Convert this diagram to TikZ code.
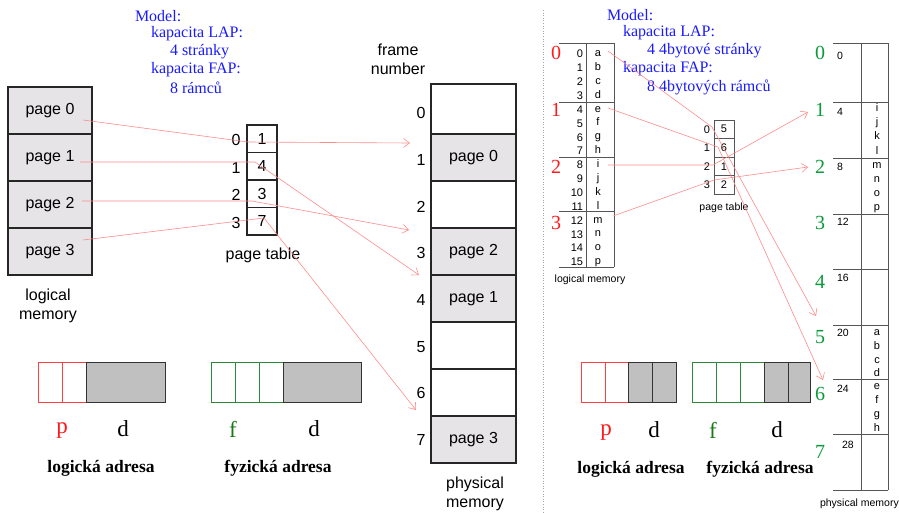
\documentclass[tikz,border=0pt]{standalone}
\usepackage{fontspec}
\setmainfont{Liberation Serif}
\newfontfamily\lsans{Liberation Sans}
\usetikzlibrary{arrows.meta}
\definecolor{cellgray}{HTML}{E6E4E6}
\definecolor{addrgray}{HTML}{C0C0C0}
\definecolor{linkred}{HTML}{FF8C8C}
\definecolor{modelblue}{HTML}{1A1AFF}
\definecolor{darkgreen}{HTML}{1A7A1A}
\definecolor{framegreen}{HTML}{0A9A3A}
\definecolor{pred}{HTML}{FF1A1A}
\definecolor{cellred}{HTML}{FF4040}
\definecolor{cellgreen}{HTML}{2A8A3A}
\definecolor{tabline}{HTML}{555555}

\begin{document}
\begin{tikzpicture}[x=1pt,y=-1pt,
  every node/.style={inner sep=0pt, outer sep=0pt},
  mem/.style={draw=black!85, line width=1.2pt},
  lcell/.style={mem, fill=cellgray, minimum width=84pt, minimum height=47pt, font=\lsans\fontsize{16}{18}\selectfont},
  pcell/.style={mem, minimum width=85pt, minimum height=47pt, font=\lsans\fontsize{16}{18}\selectfont},
  ptcell/.style={mem, minimum width=30pt, minimum height=27.5pt, font=\lsans\fontsize{16}{18}\selectfont},
  rtcell/.style={draw=tabline, line width=0.8pt, minimum width=20pt, minimum height=18.5pt, font=\lsans\fontsize{11}{13}\selectfont},
  biglabel/.style={font=\lsans\fontsize{16}{18}\selectfont},
  smalllabel/.style={font=\lsans\fontsize{11}{13}\selectfont},
  tinylabel/.style={font=\lsans\fontsize{10.5}{12}\selectfont},
  model/.style={anchor=west, text=modelblue, font=\fontsize{16}{18}\selectfont},
  addrfont/.style={font=\bfseries\fontsize{17.5}{20}\selectfont},
  partfont/.style={font=\fontsize{23}{26}\selectfont},
  pagenum/.style={font=\fontsize{20}{22}\selectfont},
  tab/.style={draw=tabline, line width=0.8pt},
  link/.style={draw=linkred, line width=0.6pt, -{Straight Barb[length=6pt,width=9pt]}},
  redcell/.style={draw=cellred, line width=1pt, fill=white},
  greencell/.style={draw=cellgreen, line width=1pt, fill=white},
  graycell/.style={draw=black!80, line width=1pt, fill=addrgray}
]
\useasboundingbox (0,0) rectangle (899,512);

% ---------- left: model description ----------
\node[model] (mA) at (135,16) {Model:};
\node[model] (mB) at (151,34) {kapacita LAP:};
\node[model] (mC) at (170,52) {4 stránky};
\node[model] (mD) at (151,70) {kapacita FAP:};
\node[model] (mE) at (170,88) {8 rámců};

% ---------- left: logical memory ----------
\node[lcell] (lp0) at (50,110.5) {page 0};
\node[lcell] (lp1) at (50,157.5) {page 1};
\node[lcell] (lp2) at (50,204.5) {page 2};
\node[lcell] (lp3) at (50,251.5) {page 3};
\node[biglabel, align=center] (lmem) at (48,306) {logical\\[1pt]memory};

% ---------- left: page table ----------
\node[ptcell] (pt0) at (262,138.75) {1};
\node[ptcell] (pt1) at (262,166.25) {4};
\node[ptcell] (pt2) at (262,193.75) {3};
\node[ptcell] (pt3) at (262,221.25) {7};
\node[biglabel] (pti0) at (236,140) {0};
\node[biglabel] (pti1) at (236,167.5) {1};
\node[biglabel] (pti2) at (236,195) {2};
\node[biglabel] (pti3) at (236,222.5) {3};
\node[biglabel] (ptlab) at (263,255) {page table};

% ---------- left: physical memory ----------
\node[biglabel, align=center] (fnum) at (398,59) {frame\\[1pt]number};
\node[pcell, minimum height=50pt] (pf0) at (473.5,109) {};
\node[pcell, fill=cellgray] (pf1) at (473.5,157.5) {page 0};
\node[pcell] (pf2) at (473.5,204.5) {};
\node[pcell, fill=cellgray] (pf3) at (473.5,251.5) {page 2};
\node[pcell, fill=cellgray] (pf4) at (473.5,298.5) {page 1};
\node[pcell] (pf5) at (473.5,345.5) {};
\node[pcell] (pf6) at (473.5,392.5) {};
\node[pcell, fill=cellgray] (pf7) at (473.5,439.5) {page 3};
\foreach \i/\y in {0/113,1/160,2/207,3/253,4/300,5/347,6/393,7/440}
  \node[biglabel] (fn\i) at (421,\y) {\i};
\node[biglabel, align=center] (pmem) at (475,494) {physical\\[1pt]memory};

% ---------- left: mapping links ----------
\coordinate (s0) at (83,120);  \coordinate (m0) at (248,142); \coordinate (e0) at (410,143);
\coordinate (s1) at (80,162);  \coordinate (m1) at (255,162); \coordinate (e1) at (419,275);
\coordinate (s2) at (82,201);  \coordinate (m2) at (252,201); \coordinate (e2) at (409,230);
\coordinate (s3) at (83,240);  \coordinate (m3) at (264,218); \coordinate (e3) at (416,410);
\draw[link] (s0) -- (m0) -- (e0);
\draw[link] (s1) -- (m1) -- (e1);
\draw[link] (s2) -- (m2) -- (e2);
\draw[link] (s3) -- (m3) -- (e3);

% ---------- left: address formats ----------
\node[redcell, minimum width=24pt, minimum height=40pt] (la1) at (50,382) {};
\node[redcell, minimum width=24pt, minimum height=40pt] (la2) at (74,382) {};
\node[graycell, minimum width=79pt, minimum height=40pt] (la3) at (125.5,382) {};
\node[greencell, minimum width=24pt, minimum height=40pt] (fa1) at (223,382) {};
\node[greencell, minimum width=24pt, minimum height=40pt] (fa2) at (247,382) {};
\node[greencell, minimum width=24pt, minimum height=40pt] (fa3) at (271,382) {};
\node[graycell, minimum width=78pt, minimum height=40pt] (fa4) at (322,382) {};
\node[partfont, text=pred] (lp) at (62,431) {p};
\node[partfont] (ld) at (123,429) {d};
\node[partfont, text=darkgreen] (ff) at (233,429) {f};
\node[partfont] (fd) at (314,429) {d};
\node[addrfont] (lad) at (101,468) {logická adresa};
\node[addrfont] (fad) at (278,468) {fyzická adresa};

% ---------- divider ----------
\draw[gray!70, line width=0.6pt, dotted] (543,10) -- (543,512);

% ---------- right: model description ----------
\node[model] (rmA) at (607,15) {Model:};
\node[model] (rmB) at (623,33) {kapacita LAP:};
\node[model] (rmC) at (647,51) {4 4bytové stránky};
\node[model] (rmD) at (623,69) {kapacita FAP:};
\node[model] (rmE) at (647,87) {8 4bytových rámců};

% ---------- right: logical memory (16 bytes) ----------
\foreach \y in {43,102,157,211,267} \draw[tab] (559,\y) -- (614,\y);
\draw[tab] (586,43) -- (586,267);
\draw[tab] (614,43) -- (614,267);
\foreach \n/\c in {0/a,1/b,2/c,3/d,4/e,5/f,6/g,7/h,8/i,9/j,10/k,11/l,12/m,13/n,14/o,15/p}{
  \node[smalllabel, anchor=east] (la\n) at (583,54+13.87*\n) {\n};
  \node[smalllabel] (lc\n) at (598,54+13.87*\n) {\strut\c};
}
\foreach \i/\y in {0/53,1/110,2/167,3/223}
  \node[pagenum, text=pred] (rp\i) at (556,\y) {\i};
\node[tinylabel] (rlmem) at (590,280) {logical memory};

% ---------- right: page table ----------
\node[rtcell] (rt0) at (724,129.25) {5};
\node[rtcell] (rt1) at (724,147.75) {6};
\node[rtcell] (rt2) at (724,166.25) {1};
\node[rtcell] (rt3) at (724,184.75) {2};
\foreach \i/\y in {0/129.25,1/147.75,2/166.25,3/184.75}
  \node[smalllabel] (rti\i) at (707,\y) {\i};
\node[tinylabel] (rtlab) at (724,208) {page table};

% ---------- right: physical memory (32 bytes) ----------
\foreach \y in {43,102,158,214,269,325,379,434,490} \draw[tab] (833,\y) -- (888,\y);
\draw[tab] (861,43) -- (861,490);
\draw[tab] (888,43) -- (888,490);
\foreach \i/\y in {0/53,1/110,2/167,3/223,4/282,5/337,6/394,7/452}
  \node[pagenum, text=framegreen] (rf\i) at (820,\y) {\i};
\foreach \a/\y in {0/56,4/112,8/167,12/222,16/278,20/333,24/389}
  \node[tinylabel, anchor=west] (pa\a) at (837,\y) {\a};
\node[tinylabel, anchor=west] (pa28) at (842,445) {28};
\foreach \c/\y in {i/109,j/123,k/137,l/152,m/166,n/180,o/194,p/208,a/333,b/347,c/361,d/374,e/387,f/401,g/415,h/429}
  \node[smalllabel] (pc\c) at (877,\y) {\strut\c};
\node[tinylabel, anchor=west] (rpmem) at (820,504) {physical memory};

% ---------- right: mapping links ----------
\coordinate (rs0) at (608,51);  \coordinate (rm0) at (712,127); \coordinate (re0) at (816,316);
\coordinate (rs1) at (608,108); \coordinate (rm1) at (718,147); \coordinate (re1) at (823,380);
\coordinate (rs2) at (608,165); \coordinate (rm2) at (713,165); \coordinate (re2) at (808,112);
\coordinate (rs3) at (613,216); \coordinate (rm3) at (714,180); \coordinate (re3) at (808,167);
\draw[link] (rs0) -- (rm0) -- (re0);
\draw[link] (rs1) -- (rm1) -- (re1);
\draw[link] (rs2) -- (rm2) -- (re2);
\draw[link] (rs3) -- (rm3) -- (re3);

% ---------- right: address formats ----------
\node[redcell, minimum width=24pt, minimum height=40pt] (rla1) at (593,382) {};
\node[redcell, minimum width=23pt, minimum height=40pt] (rla2) at (616.5,382) {};
\node[graycell, minimum width=24pt, minimum height=40pt] (rla3) at (640,382) {};
\node[graycell, minimum width=24pt, minimum height=40pt] (rla4) at (664,382) {};
\node[greencell, minimum width=24pt, minimum height=40pt] (rfa1) at (704,382) {};
\node[greencell, minimum width=24pt, minimum height=40pt] (rfa2) at (728,382) {};
\node[greencell, minimum width=24pt, minimum height=40pt] (rfa3) at (752,382) {};
\node[graycell, minimum width=24pt, minimum height=40pt] (rfa4) at (776,382) {};
\node[graycell, minimum width=22pt, minimum height=40pt] (rfa5) at (799,382) {};
\node[partfont, text=pred] (rlp) at (606,433) {p};
\node[partfont] (rld) at (654,430) {d};
\node[partfont, text=darkgreen] (rff) at (713,430) {f};
\node[partfont] (rfd) at (777,430) {d};
\node[addrfont] (rlad) at (631,469) {logická adresa};
\node[addrfont] (rfad) at (760,469) {fyzická adresa};
\end{tikzpicture}
\end{document}
